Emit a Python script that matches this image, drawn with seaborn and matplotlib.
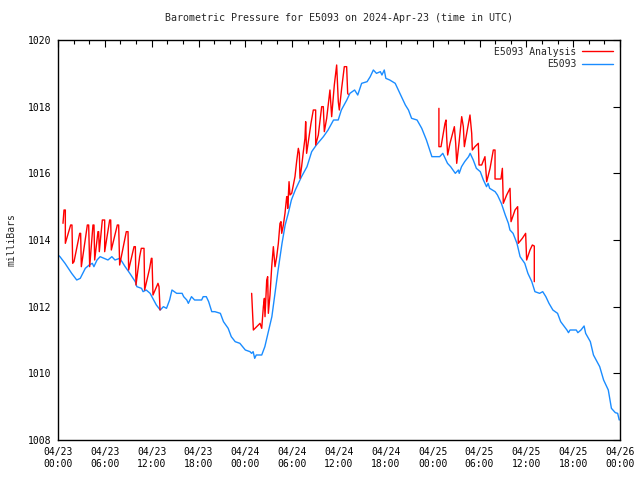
import numpy as np
import pandas as pd
import seaborn as sns
import matplotlib.pyplot as plt
from matplotlib.lines import Line2D
from matplotlib.ticker import MultipleLocator, FixedLocator

# hours since 2024-04-23 00:00 UTC
obs_hours = [0.0, 0.25, 0.9, 1.75, 2.4, 2.85, 3.5, 4.0, 4.4, 4.6, 5.0, 5.4, 6.4, 6.9, 7.3,
             7.9, 8.2, 8.6, 9.2, 9.9, 10.1, 10.7, 10.9, 11.3, 11.8, 12.6, 13.1, 13.5, 13.9,
             14.3, 14.6, 15.2, 15.9, 16.1, 16.5, 16.7, 17.1, 17.5, 18.4, 18.6, 19.0, 19.3,
             19.7, 20.1, 20.8, 21.2, 21.8, 22.2, 22.7, 23.3, 24.0, 24.6, 24.8, 25.0, 25.2,
             25.4, 25.8, 26.1, 26.5, 26.9, 27.4, 27.8, 28.2, 28.7, 29.1, 29.5, 29.9, 30.4,
             30.8, 31.2, 31.9, 32.5, 33.1, 34.0, 34.6, 35.3, 35.9, 36.3, 37.0, 37.4, 38.0,
             38.4, 38.9, 39.6, 40.0, 40.4, 40.8, 41.3, 41.5, 41.8, 42.0, 42.5, 43.2, 43.8,
             44.5, 44.9, 45.3, 46.0, 46.6, 47.2, 47.9, 48.9, 49.3, 49.9, 50.3, 50.9, 51.3,
             51.4, 51.7, 52.1, 52.6, 52.8, 53.0, 53.2, 53.6, 54.1, 54.5, 54.9, 55.1, 55.3,
             56.0, 56.3, 56.8, 57.3, 57.7, 57.9, 58.3, 58.8, 59.2, 59.8, 60.2, 60.7, 61.1,
             61.7, 62.1, 62.5, 62.9, 63.4, 64.0, 64.4, 65.2, 65.4, 65.6, 66.4, 66.6, 67.0,
             67.4, 67.6, 68.2, 68.6, 69.4, 69.9, 70.5, 70.9, 71.4, 71.7, 71.9]
obs_mb = [1013.55, 1013.5, 1013.3, 1013.0, 1012.8, 1012.85, 1013.15, 1013.25, 1013.3, 1013.2,
          1013.4, 1013.5, 1013.4, 1013.5, 1013.4, 1013.45, 1013.35, 1013.2, 1013.0, 1012.75,
          1012.6, 1012.55, 1012.45, 1012.5, 1012.4, 1012.05, 1011.9, 1012.0, 1011.95, 1012.2,
          1012.5, 1012.4, 1012.4, 1012.3, 1012.2, 1012.1, 1012.3, 1012.2, 1012.2, 1012.3,
          1012.3, 1012.15, 1011.85, 1011.85, 1011.8, 1011.55, 1011.35, 1011.1, 1010.95, 1010.9,
          1010.7, 1010.65, 1010.6, 1010.65, 1010.45, 1010.55, 1010.55, 1010.55, 1010.8, 1011.2,
          1011.7, 1012.4, 1013.1, 1013.9, 1014.45, 1014.8, 1015.2, 1015.5, 1015.7, 1015.9,
          1016.2, 1016.65, 1016.85, 1017.1, 1017.3, 1017.6, 1017.6, 1017.9, 1018.2, 1018.4,
          1018.5, 1018.35, 1018.7, 1018.75, 1018.9, 1019.1, 1019.0, 1019.05, 1018.95, 1019.1,
          1018.85, 1018.8, 1018.7, 1018.4, 1018.05, 1017.9, 1017.65, 1017.6, 1017.35, 1017.0,
          1016.5, 1016.5, 1016.6, 1016.3, 1016.2, 1016.0, 1016.1, 1016.0, 1016.2, 1016.35,
          1016.5, 1016.6, 1016.5, 1016.4, 1016.15, 1016.05, 1015.8, 1015.6, 1015.7, 1015.55,
          1015.45, 1015.35, 1015.1, 1014.75, 1014.5, 1014.3, 1014.2, 1013.9, 1013.5, 1013.3,
          1013.0, 1012.75, 1012.45, 1012.4, 1012.45, 1012.3, 1012.1, 1011.9, 1011.8, 1011.55,
          1011.3, 1011.22, 1011.3, 1011.3, 1011.22, 1011.3, 1011.42, 1011.2, 1010.95, 1010.55,
          1010.2, 1009.8, 1009.5, 1008.95, 1008.82, 1008.8, 1008.6]

# analysis runs (three separate pieces)
ana1_hours = [0.64, 0.77, 0.94, 0.94, 1.62, 1.79, 1.88, 2.05, 2.78, 2.90, 2.99, 3.76, 3.93, 4.06,
              4.48, 4.61, 4.70, 5.12, 5.21, 5.29, 5.68, 5.98, 5.98, 6.62, 6.75, 6.83, 7.60,
              7.77, 7.90, 8.75, 8.97, 9.05, 9.74, 9.91, 9.99, 10.46, 10.67, 11.02, 11.10,
              11.74, 11.96, 12.04, 12.17, 12.81, 12.94, 13.02, 13.07]
ana1_mb = [1014.5, 1014.9, 1014.9, 1013.9, 1014.45, 1014.45, 1013.3, 1013.35, 1014.2, 1014.2,
           1013.2, 1014.45, 1014.45, 1013.2, 1014.45, 1014.45, 1013.4, 1014.25, 1014.25, 1013.65,
           1014.6, 1014.6, 1013.65, 1014.6, 1014.6, 1013.7, 1014.45, 1014.45, 1013.25, 1014.25,
           1014.25, 1013.1, 1013.8, 1013.8, 1012.65, 1013.5, 1013.75, 1013.75, 1012.5, 1013.15,
           1013.45, 1013.45, 1012.35, 1012.7, 1012.6, 1012.2, 1011.9]

ana2_hours = [24.81, 24.81, 25.03, 25.67, 25.88, 26.10, 26.31, 26.44, 26.52, 26.74, 26.86, 26.95,
              27.16, 27.38, 27.59, 27.80, 28.02, 28.23, 28.44, 28.57, 28.66, 28.87, 29.08,
              29.30, 29.38, 29.43, 29.60, 29.72, 29.94, 30.36, 30.57, 30.79, 30.92, 31.00,
              31.21, 31.43, 31.64, 31.73, 31.85, 32.07, 32.41, 32.71, 33.01, 33.01, 33.35,
              33.78, 33.99, 34.12, 34.42, 34.84, 35.06, 35.40, 35.70, 35.91, 36.04, 36.34,
              36.68, 36.98, 37.11, 37.19]
ana2_mb = [1012.4, 1012.4, 1011.3, 1011.45, 1011.5, 1011.35, 1012.0, 1012.25, 1011.7, 1012.8,
           1012.9, 1011.8, 1012.35, 1013.2, 1013.8, 1013.2, 1013.5, 1013.9, 1014.5, 1014.55,
           1014.2, 1014.45, 1014.8, 1015.3, 1015.3, 1014.95, 1015.75, 1015.35, 1015.4, 1015.9,
           1016.35, 1016.75, 1016.6, 1015.85, 1016.2, 1016.65, 1017.05, 1017.55, 1016.6,
           1016.95, 1017.5, 1017.9, 1017.9, 1016.85, 1017.15, 1018.0, 1018.0, 1017.25, 1017.65,
           1018.5, 1017.7, 1018.65, 1019.25, 1018.15, 1017.9, 1018.55, 1019.2, 1019.2, 1018.4,
           1018.37]

ana3_hours = [48.80, 48.80, 49.07, 49.58, 49.71, 49.79, 49.92, 50.22, 50.78, 50.95, 51.08, 51.37,
              51.72, 51.93, 52.06, 52.36, 52.78, 53.00, 53.08, 53.42, 53.85, 53.94, 54.28,
              54.70, 54.92, 55.35, 55.77, 55.99, 55.99, 56.75, 56.93, 57.05, 57.48, 57.91,
              58.04, 58.55, 58.89, 58.97, 59.49, 59.91, 60.04, 60.47, 60.77, 61.02, 61.02]
ana3_mb = [1017.95, 1016.8, 1016.8, 1017.5, 1017.6, 1017.1, 1016.55, 1016.9, 1017.4, 1016.9,
           1016.3, 1016.9, 1017.7, 1017.4, 1016.8, 1017.2, 1017.75, 1017.2, 1016.7, 1016.8,
           1016.9, 1016.25, 1016.25, 1016.5, 1015.75, 1016.15, 1016.7, 1016.7, 1015.83,
           1015.83, 1016.15, 1015.1, 1015.35, 1015.55, 1014.55, 1014.9, 1015.0, 1013.9,
           1014.05, 1014.2, 1013.4, 1013.7, 1013.85, 1013.82, 1012.75]

tick_hours = list(range(0, 73, 6))
tick_labels = ['04/23\n00:00', '04/23\n06:00', '04/23\n12:00', '04/23\n18:00',
               '04/24\n00:00', '04/24\n06:00', '04/24\n12:00', '04/24\n18:00',
               '04/25\n00:00', '04/25\n06:00', '04/25\n12:00', '04/25\n18:00',
               '04/26\n00:00']

RED = '#ff0000'
BLUE = '#1a8cff'

obs = pd.DataFrame({'hour': obs_hours, 'mb': obs_mb})
ana = pd.concat([
    pd.DataFrame({'hour': h, 'mb': v, 'run': i})
    for i, (h, v) in enumerate([(ana1_hours, ana1_mb), (ana2_hours, ana2_mb), (ana3_hours, ana3_mb)])
])

sns.set_theme(style='white')
plt.rcParams['font.family'] = ['DejaVu Sans Mono']

fig = plt.figure(figsize=(6.4, 4.8), dpi=100)
ax = fig.add_axes([58 / 640, 40 / 480, 562 / 640, 400 / 480])

sns.lineplot(data=obs, x='hour', y='mb', color=BLUE, lw=1.0, sort=False, ax=ax)
sns.lineplot(data=ana, x='hour', y='mb', units='run', estimator=None, color=RED,
             lw=1.0, sort=False, ax=ax)

ax.set_xlim(0, 72)
ax.set_ylim(1008, 1020)
ax.xaxis.set_major_locator(FixedLocator(tick_hours))
ax.xaxis.set_minor_locator(MultipleLocator(2))
ax.set_xticklabels(tick_labels)
ax.yaxis.set_major_locator(MultipleLocator(2))
ax.tick_params(axis='both', which='both', direction='in', top=True, right=True,
               labelsize=7, colors='black', width=0.8)
ax.tick_params(axis='both', which='major', length=5, pad=5)
ax.tick_params(axis='both', which='minor', length=3)
for s in ax.spines.values():
    s.set_color('black')
    s.set_linewidth(1.0)

ax.set_xlabel('')
ax.set_ylabel('milliBars', fontsize=7, labelpad=8)
ax.set_title('Barometric Pressure for E5093 on 2024-Apr-23 (time in UTC)', fontsize=7.2, pad=14)

handles = [Line2D([], [], color=RED, lw=1.0), Line2D([], [], color=BLUE, lw=1.0)]
ax.legend(handles, ['E5093 Analysis', 'E5093'], loc='upper right', frameon=False,
          markerfirst=False, fontsize=7, handlelength=3.2, handletextpad=0.6,
          labelspacing=0.25, borderaxespad=0.3)

fig.savefig('out.png', dpi=100)
